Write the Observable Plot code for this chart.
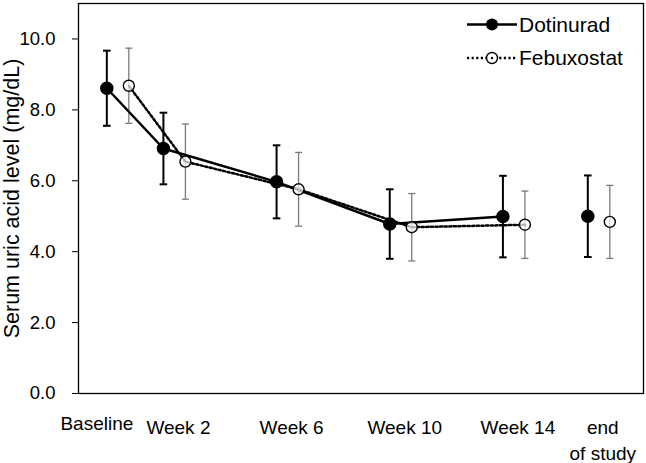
<!DOCTYPE html>
<html><head><meta charset="utf-8">
<script src="https://cdn.jsdelivr.net/npm/d3@7"></script>
<script src="https://cdn.jsdelivr.net/npm/@observablehq/plot@0.6"></script>
<style>body{margin:0;background:#fff} #chart{width:646px;height:463px}</style>
</head><body><div id="chart"></div>
<script>
const weeks = [0, 2, 6, 10, 14, 17];
const visitLabels = ["Baseline", "Week 2", "Week 6", "Week 10", "Week 14", "end\nof study"];
const connected = [true, true, true, true, true, false];
const yTicks = [0, 2, 4, 6, 8, 10];
const yTitle = "Serum uric acid level (mg/dL)";
const dotMean = [8.61, 6.91, 5.97, 4.78, 4.99, 5.00];
const dotSD   = [1.06, 1.01, 1.03, 0.98, 1.15, 1.15];
const febMean = [8.68, 6.54, 5.76, 4.69, 4.76, 4.84];
const febSD   = [1.06, 1.06, 1.04, 0.95, 0.95, 1.03];
const seriesNames = ["Dotinurad", "Febuxostat"];

const rows = (group, means, sds) => weeks.map((w, i) => ({
  group, week: w, mean: means[i], lo: means[i] - sds[i], hi: means[i] + sds[i], connected: connected[i]
}));
const dot = rows(seriesNames[0], dotMean, dotSD);
const feb = rows(seriesNames[1], febMean, febSD);

const cap = {draw(ctx, size) { const w = Math.sqrt(size / Math.PI); ctx.moveTo(-w, 0); ctx.lineTo(w, 0); }};
const fmtX = w => visitLabels[weeks.indexOf(w)];
const OFF = 11;
const FONT = "'Liberation Sans', Arial, sans-serif";

const plot = Plot.plot({
  width: 646, height: 463,
  marginLeft: 78, marginTop: 3, marginRight: 3, marginBottom: 70,
  style: {fontFamily: FONT, fontSize: "18.5px", color: "black", background: "white"},
  x: {domain: [-1.39, 18.58]},
  y: {domain: [0, 11]},
  marks: [
    Plot.axisY({ticks: yTicks, tickFormat: d => d.toFixed(1), tickSize: 6, tickPadding: 17, fontSize: 18.5, label: null}),
    Plot.text([yTitle], {text: d => d, frameAnchor: "left", rotate: -90, dx: -66, fontSize: 21.5, textAnchor: "middle", lineAnchor: "middle", fill: "black"}),
    Plot.axisX({ticks: weeks.slice(1), tickFormat: fmtX, tickSize: 0, tickPadding: 23, dx: 4, fontSize: 19, lineHeight: 1.33, label: null}),
    Plot.axisX({ticks: weeks.slice(0, 1), tickFormat: fmtX, tickSize: 0, tickPadding: 23, dx: -21, fontSize: 19, label: null}),
    Plot.frame({stroke: "black", strokeWidth: 1.3}),
    // Febuxostat error bars
    Plot.ruleX(feb, {x: "week", y1: "lo", y2: "hi", dx: OFF, stroke: "#7a7a7a", strokeWidth: 1.3}),
    Plot.dot(feb, {x: "week", y: "hi", dx: OFF, symbol: cap, r: 3.5, stroke: "#7a7a7a", strokeWidth: 1.3}),
    Plot.dot(feb, {x: "week", y: "lo", dx: OFF, symbol: cap, r: 3.5, stroke: "#7a7a7a", strokeWidth: 1.3}),
    Plot.line(feb.filter(d => d.connected), {x: "week", y: "mean", dx: OFF, stroke: "black", strokeWidth: 2.5, strokeDasharray: "2.2 2.4"}),
    // Dotinurad error bars
    Plot.ruleX(dot, {x: "week", y1: "lo", y2: "hi", dx: -OFF, stroke: "black", strokeWidth: 2}),
    Plot.dot(dot, {x: "week", y: "hi", dx: -OFF, symbol: cap, r: 3.8, stroke: "black", strokeWidth: 2}),
    Plot.dot(dot, {x: "week", y: "lo", dx: -OFF, symbol: cap, r: 3.8, stroke: "black", strokeWidth: 2}),
    Plot.line(dot.filter(d => d.connected), {x: "week", y: "mean", dx: -OFF, stroke: "black", strokeWidth: 2.5}),
    Plot.dot(feb, {x: "week", y: "mean", dx: OFF, r: 5.5, fill: "white", fillOpacity: 0.7, stroke: "black", strokeWidth: 1.4}),
    Plot.dot(dot, {x: "week", y: "mean", dx: -OFF, r: 6, fill: "black", stroke: "black"})
  ]
});
document.getElementById("chart").appendChild(plot);

// in-frame legend
const lg = d3.select(plot).append("g").attr("font-family", FONT).attr("font-size", 21).attr("text-anchor", "start").attr("fill", "black");
const r1 = lg.append("g").attr("transform", "translate(0,24.5)");
r1.append("line").attr("x1", 467).attr("x2", 517).attr("stroke", "black").attr("stroke-width", 2.5);
r1.append("circle").attr("cx", 492).attr("r", 6).attr("fill", "black");
r1.append("text").attr("x", 519).attr("y", 7).attr("text-anchor", "start").text(seriesNames[0]);
const r2 = lg.append("g").attr("transform", "translate(0,58)");
r2.append("line").attr("x1", 467).attr("x2", 517).attr("stroke", "black").attr("stroke-width", 2.5).attr("stroke-dasharray", "2.2 2.4");
r2.append("circle").attr("cx", 492).attr("r", 5.5).attr("fill", "white").attr("stroke", "black").attr("stroke-width", 1.4);
r2.append("circle").attr("cx", 492).attr("r", 1.2).attr("fill", "black");
r2.append("text").attr("x", 519).attr("y", 7).attr("text-anchor", "start").text(seriesNames[1]);
</script></body></html>
